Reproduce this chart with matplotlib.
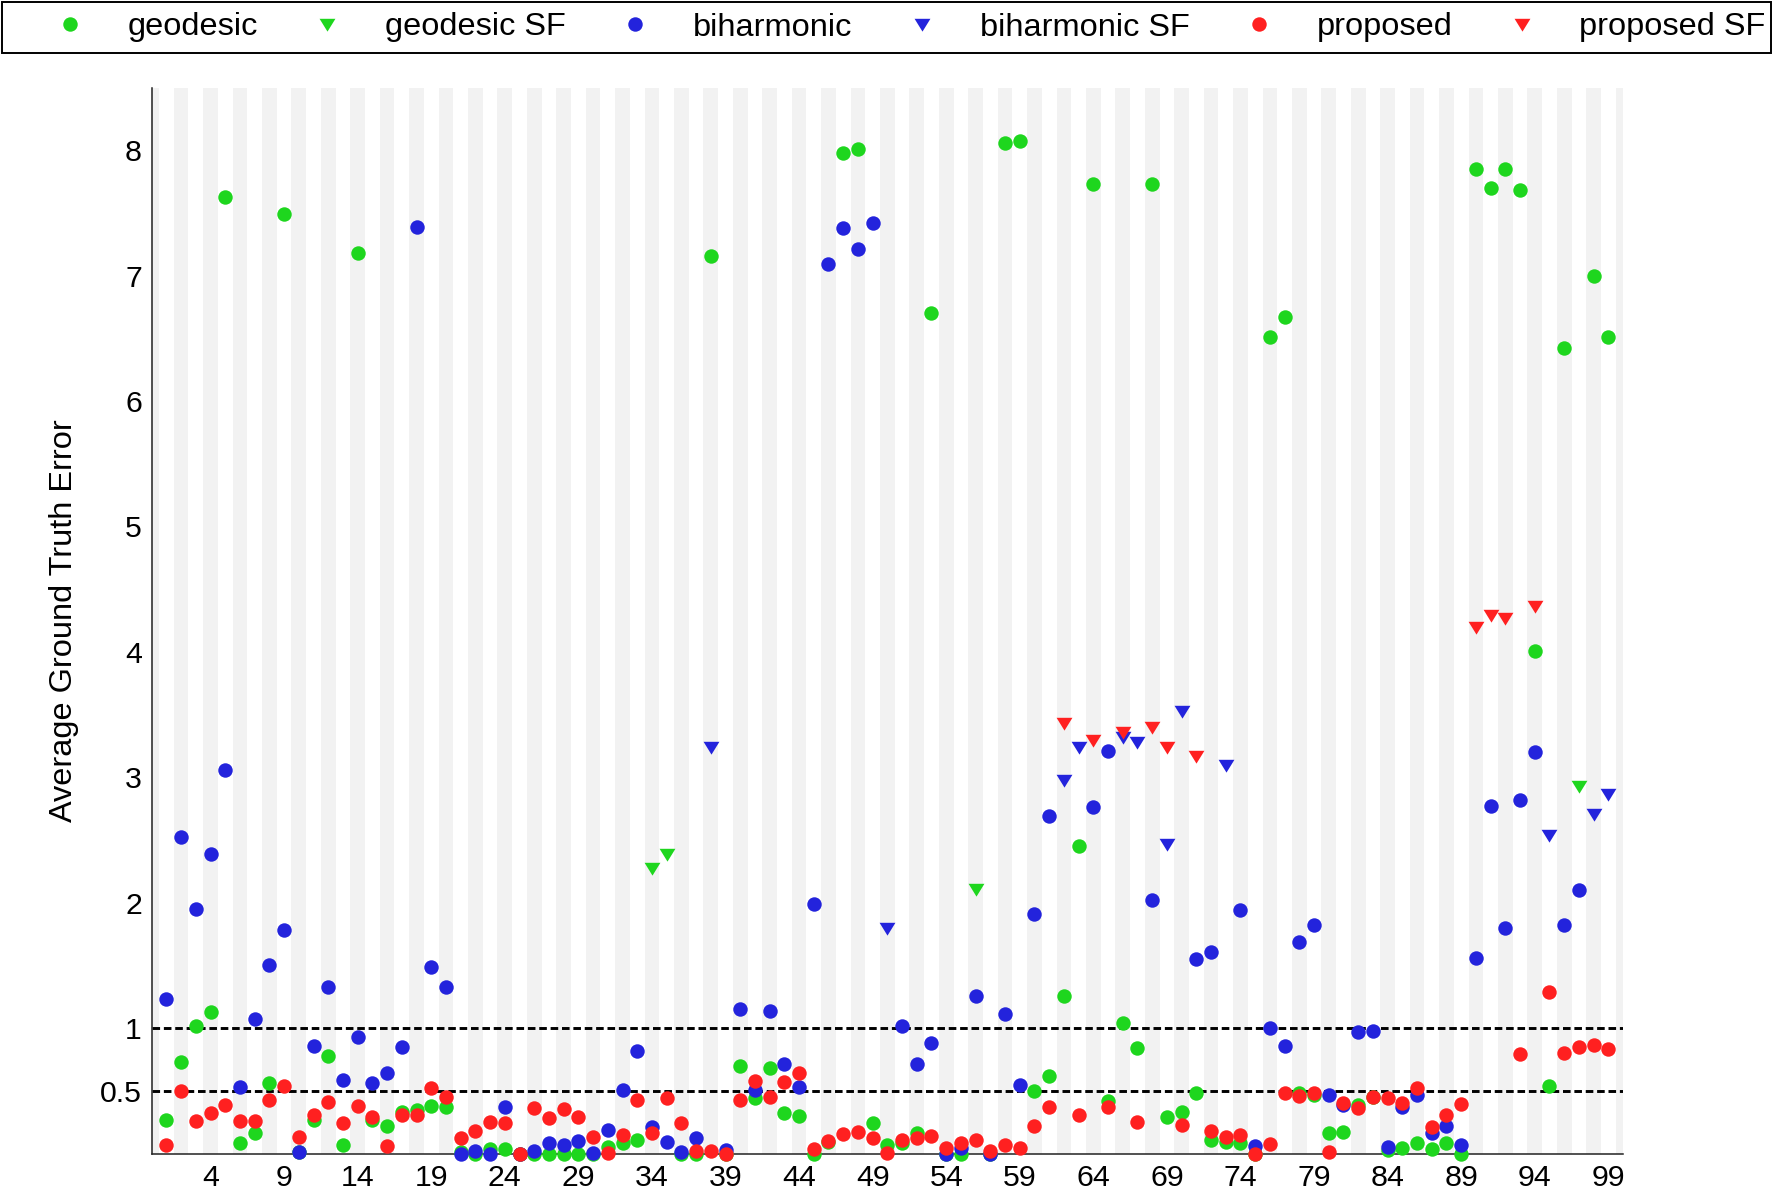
import matplotlib
matplotlib.use('Agg')
import matplotlib.pyplot as plt
import numpy as np
from matplotlib.path import Path
from matplotlib.lines import Line2D
from matplotlib.patches import Rectangle

plt.rcParams['font.family'] = ['Liberation Sans', 'DejaVu Sans']

# ---------------- data ----------------
shape_ids = list(range(1, 100))

geodesic = [0.27, 0.73, 1.02, 1.13, 7.63, 0.08, 0.16, 0.56, 7.49, 0.01,
            0.27, 0.78, 0.07, 7.18, 0.27, 0.22, 0.33, 0.35, 0.38, 0.37,
            0.01, 0.00, 0.035, 0.035, 0.00, 0.00, 0.00, 0.00, 0.00, 0.00,
            0.05, 0.08, 0.11, 2.28, 2.39, 0.00, 0.00, 7.155, 0.00, 0.70,
            0.44, 0.68, 0.32, 0.30, 0.00, 0.09, 7.98, 8.01, 0.24, 0.07,
            0.08, 0.16, 6.70, 0.00, 0.00, 2.11, 0.00, 8.06, 8.07, 0.50,
            0.62, 1.255, 2.45, 7.73, 0.415, 1.04, 0.84, 7.73, 0.29, 0.33,
            0.48, 0.11, 0.09, 0.085, 0.00, 6.51, 6.67, 0.484, 0.47, 0.16,
            0.17, 0.39, 0.45, 0.027, 0.04, 0.08, 0.035, 0.08, 0.00, 7.85,
            7.70, 7.85, 7.685, 4.01, 0.54, 6.42, 2.93, 7.00, 6.51]
geodesic_sf_ids = [34, 35, 56, 97]

biharmonic = [1.23, 2.52, 1.95, 2.39, 3.06, 0.53, 1.07, 1.50, 1.78, 0.013,
              0.86, 1.33, 0.59, 0.93, 0.56, 0.64, 0.85, 7.39, 1.49, 1.33,
              0.00, 0.02, 0.00, 0.37, 0.00, 0.02, 0.08, 0.064, 0.098, 0.005,
              0.19, 0.505, 0.82, 0.21, 0.09, 0.013, 0.12, 3.24, 0.03, 1.15,
              0.505, 1.14, 0.71, 0.53, 1.99, 7.09, 7.38, 7.21, 7.42, 1.80,
              1.02, 0.71, 0.88, 0.00, 0.04, 1.255, 0.00, 1.11, 0.55, 1.91,
              2.69, 2.98, 3.24, 2.76, 3.21, 3.32, 3.285, 2.02, 2.47, 3.53,
              1.55, 1.61, 3.10, 1.94, 0.06, 1.00, 0.86, 1.69, 1.82, 0.465,
              0.39, 0.97, 0.98, 0.05, 0.37, 0.465, 0.165, 0.22, 0.066, 1.56,
              2.77, 1.795, 2.82, 3.20, 2.54, 1.82, 2.10, 2.71, 2.87]
biharmonic_sf_ids = [38, 50, 62, 63, 66, 67, 69, 70, 73, 95, 98, 99]

proposed = [0.07, 0.50, 0.26, 0.32, 0.39, 0.26, 0.26, 0.43, 0.54, 0.13,
            0.31, 0.41, 0.24, 0.38, 0.29, 0.06, 0.31, 0.31, 0.52, 0.45,
            0.12, 0.18, 0.255, 0.24, 0.00, 0.36, 0.285, 0.354, 0.295, 0.133,
            0.005, 0.15, 0.43, 0.165, 0.44, 0.245, 0.02, 0.02, 0.00, 0.426,
            0.577, 0.452, 0.572, 0.644, 0.037, 0.096, 0.152, 0.168, 0.125, 0.005,
            0.106, 0.125, 0.141, 0.045, 0.085, 0.106, 0.021, 0.066, 0.045, 0.221,
            0.372, 3.43, 0.31, 3.30, 0.367, 3.36, 0.253, 3.40, 3.245, 0.226,
            3.17, 0.178, 0.133, 0.146, 0.00, 0.077, 0.484, 0.457, 0.479, 0.013,
            0.40, 0.36, 0.447, 0.44, 0.404, 0.52, 0.213, 0.306, 0.394, 4.195,
            4.29, 4.27, 0.793, 4.365, 1.29, 0.803, 0.851, 0.864, 0.83]
proposed_sf_ids = [62, 64, 66, 68, 69, 71, 90, 91, 92, 94]

threshold_lines = [0.5, 1.0]
y_ticks = [0.5, 1, 2, 3, 4, 5, 6, 7, 8]
x_ticks = list(range(4, 100, 5))
stripe_ids = list(range(0, 101, 2))

methods = [
    ("geodesic", geodesic, geodesic_sf_ids, "#1ed61e"),
    ("biharmonic", biharmonic, biharmonic_sf_ids, "#2323dc"),
    ("proposed", proposed, proposed_sf_ids, "#ff2020"),
]

# ---------------- figure ----------------
W, H = 1774, 1192
fig = plt.figure(figsize=(W / 100, H / 100), dpi=100)
ax = fig.add_axes([151.7 / W, 1 - 1153.5 / H, (1623 - 151.7) / W, (1153.5 - 87.5) / H])

for s in stripe_ids:
    ax.axvspan(s - 0.5, s + 0.5, color="#f2f2f2", lw=0, zorder=0)

for t in threshold_lines:
    ax.axhline(t, color="black", lw=2.1, ls=(0, (2.6, 1.3)), zorder=1)

tri = Path([(-1, 0.72), (1, 0.72), (0, -0.9), (-1, 0.72)],
           [Path.MOVETO, Path.LINETO, Path.LINETO, Path.CLOSEPOLY])

CIRC_MS = 10.4
TRI_MS = 11.4

handles = []
labels = []
x_arr = np.array(shape_ids)
for name, vals, sf_ids, col in methods:
    vals = np.array(vals)
    sf_mask = np.isin(x_arr, sf_ids)
    ax.plot(x_arr[~sf_mask], vals[~sf_mask], ls="none", marker="o", ms=CIRC_MS,
            mfc=col, mec=col, mew=0, clip_on=False, zorder=3)
    ax.plot(x_arr[sf_mask], vals[sf_mask], ls="none", marker=tri, ms=TRI_MS,
            mfc=col, mec=col, mew=0, clip_on=False, zorder=3)
    handles.append(Line2D([], [], ls="none", marker="o", ms=CIRC_MS, mfc=col, mec=col, mew=0))
    labels.append(name)
    handles.append(Line2D([], [], ls="none", marker=tri, ms=TRI_MS, mfc=col, mec=col, mew=0))
    labels.append(name + " SF")

ax.set_xlim(0, 100)
ax.set_ylim(0, 8.5)
ax.set_xticks(x_ticks)
ax.set_yticks(y_ticks)
ax.set_yticklabels(["0.5"] + [str(v) for v in y_ticks[1:]])
ax.tick_params(axis="both", length=0, labelsize=21.8)
ax.tick_params(axis="x", pad=7.5)
ax.tick_params(axis="y", pad=7.0)
for side in ["top", "right"]:
    ax.spines[side].set_visible(False)
for side in ["left", "bottom"]:
    ax.spines[side].set_linewidth(1.1)
    ax.spines[side].set_color("#222222")
    ax.spines[side].set_zorder(2)
ax.set_facecolor("white")

fig.text(64.5 / W, 1 - 620.5 / H, "Average Ground Truth Error", rotation=90,
         ha="center", va="center", fontsize=23.4)

fs = 23.4
leg = fig.legend(handles, labels, loc="center left",
                 bbox_to_anchor=(53.75 / W, 1 - 27.5 / H), ncol=6, fontsize=fs,
                 frameon=False, handlelength=1.0, handletextpad=1.28,
                 columnspacing=1.63, borderpad=0, borderaxespad=0)

fig.patches.append(Rectangle((1.7 / W, 1 - 53.3 / H), (1770.7 - 1.7) / W, (53.3 - 1.7) / H,
                             transform=fig.transFigure, fill=False, edgecolor="black",
                             lw=1.4, zorder=5))

fig.savefig("out.png", dpi=100)
